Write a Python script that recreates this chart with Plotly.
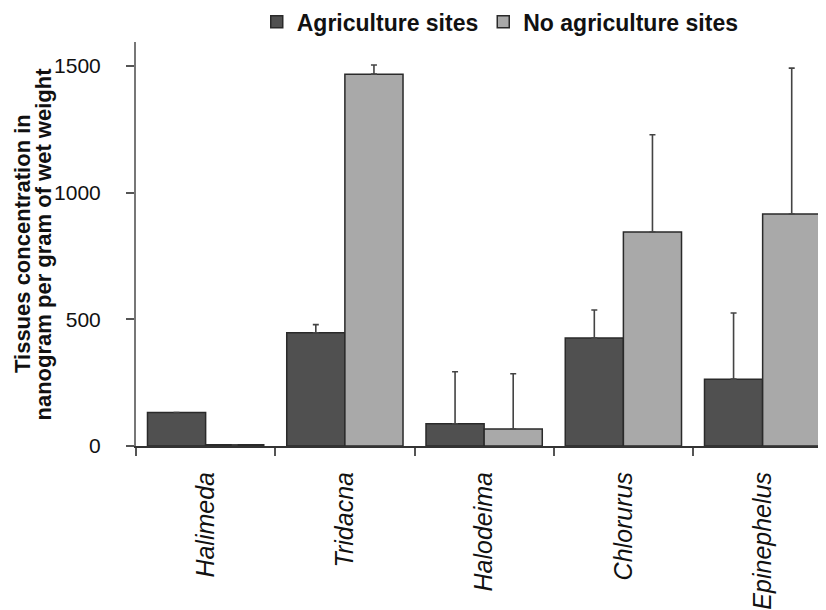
import plotly.graph_objects as go

categories = ["Halimeda", "Tridacna", "Halodeima", "Chlorurus", "Epinephelus"]
agri_values = [132, 447, 88, 426, 264]
agri_errors = [0, 32, 205, 111, 261]
noagri_values = [5, 1468, 67, 845, 916]
noagri_errors = [0, 36, 218, 384, 576]
y_ticks = [0, 500, 1000, 1500]
y_title_lines = ["Tissues concentration in", "nanogram per gram of wet weight"]

tick_text = [f"<i>{c}</i>" for c in categories]

fig = go.Figure()
fig.add_trace(go.Bar(
    x=categories, y=agri_values, name="<b>Agriculture sites</b>",
    marker=dict(color="#505050", line=dict(color="#2a2a2a", width=1.5)),
    error_y=dict(type="data", array=agri_errors, arrayminus=[0]*5, symmetric=False,
                 color="#444444", thickness=1.6, width=3),
))
fig.add_trace(go.Bar(
    x=categories, y=noagri_values, name="<b>No agriculture sites</b>",
    marker=dict(color="#a9a9a9", line=dict(color="#2a2a2a", width=1.5)),
    error_y=dict(type="data", array=noagri_errors, arrayminus=[0]*5, symmetric=False,
                 color="#444444", thickness=1.6, width=3),
))

title_x = [-0.1652, -0.1355]
annotations = [
    dict(text=f"<b>{line}</b>", xref="paper", yref="paper", x=xp, y=0.5,
         xanchor="center", yanchor="middle", textangle=-90, showarrow=False,
         font=dict(size=22, color="#111111"))
    for line, xp in zip(y_title_lines, title_x)
]

fig.update_layout(
    width=826, height=610,
    margin=dict(l=128, r=8, t=34, b=172, autoexpand=False),
    paper_bgcolor="white", plot_bgcolor="white",
    barmode="group", bargap=0.165, bargroupgap=0,
    font=dict(family="Liberation Sans, Arial, sans-serif", color="#111111"),
    showlegend=True,
    legend=dict(orientation="h", x=0.175, xanchor="left", y=1.05, yanchor="middle",
                font=dict(size=23, family="Liberation Sans, Arial, sans-serif", color="#111111"),
                itemwidth=30, traceorder="normal", bgcolor="rgba(0,0,0,0)"),
    annotations=annotations,
)

fig.update_xaxes(
    range=[-0.5, 4.455], tickmode="array", tickvals=categories, ticktext=tick_text,
    tickangle=-90, tickfont=dict(size=25, color="#111111"), automargin=False,
    tickson="boundaries", ticks="outside", ticklen=8, tickwidth=1.5, tickcolor="#555555",
    showline=True, linecolor="#333333", linewidth=2, showgrid=False, zeroline=False,
    ticklabelstandoff=14,
)
fig.update_yaxes(
    range=[0, 1595], tickvals=y_ticks, tickfont=dict(size=21, color="#111111"), automargin=False,
    ticks="outside", ticklen=8, tickwidth=1.5, tickcolor="#555555",
    showline=True, linecolor="#777777", linewidth=2, showgrid=False, zeroline=False,
    ticklabelstandoff=21,
)

fig.write_html("out.html")
